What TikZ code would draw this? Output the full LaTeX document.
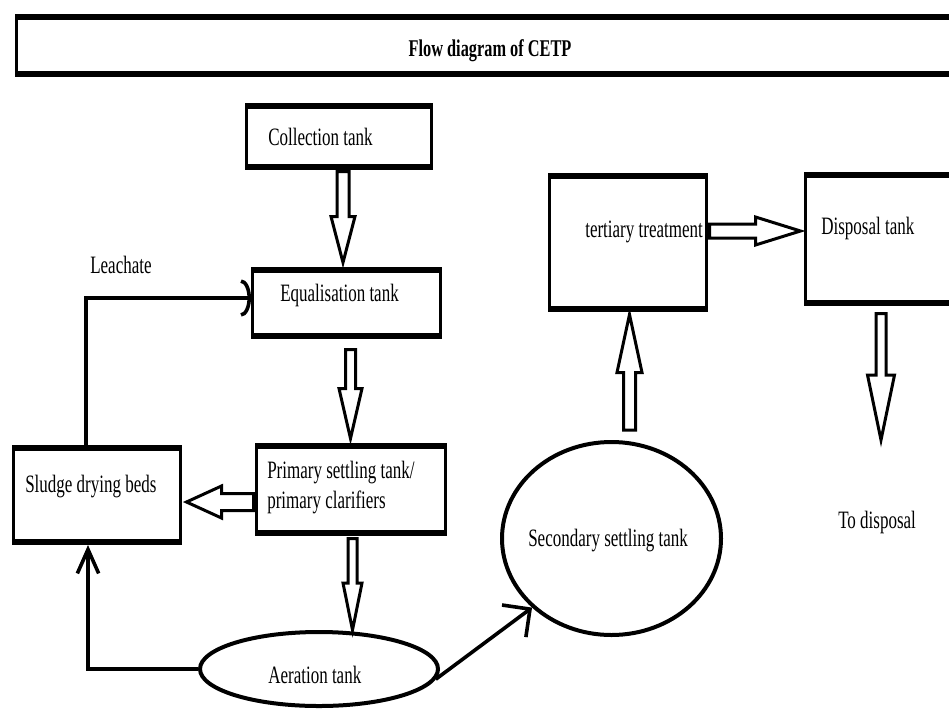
\documentclass[tikz,border=0pt]{standalone}
\usepackage{fontspec}
\setmainfont[FakeStretch=0.68]{Liberation Serif}
\usetikzlibrary{calc,shapes.geometric,arrows.meta}

\newcommand\bpt[2]{({\x1+((#1)*\n2-(#2)*\n3)*1pt},{\y1+((#1)*\n3+(#2)*\n2)*1pt})}
% #1 start, #2 tip, #3 half shaft (px), #4 half head (px), #5 head length (px)
\newcommand\blockarrow[5]{%
  \draw[barrow] let \p1=(#1), \p2=(#2),
    \n1={veclen(\x2-\x1,\y2-\y1)},
    \n2={(\x2-\x1)/\n1},
    \n3={(\y2-\y1)/\n1},
    \n4={\n1-(#5)*0.75}
  in \bpt{0}{(#3)*0.75} -- \bpt{\n4}{(#3)*0.75} -- \bpt{\n4}{(#4)*0.75}
     -- \bpt{\n1}{0} -- \bpt{\n4}{-(#4)*0.75} -- \bpt{\n4}{-(#3)*0.75}
     -- \bpt{0}{-(#3)*0.75} -- cycle;}

\begin{document}
\begin{tikzpicture}[x=0.75pt,y=-0.75pt,
  box/.style={draw, line width=2.25pt, inner sep=0pt,
    path picture={\draw[line width=6.75pt]
      (path picture bounding box.north west) -- (path picture bounding box.north east)
      (path picture bounding box.south west) -- (path picture bounding box.south east);}},
  ell/.style={draw, ellipse, line width=3pt, inner sep=0pt},
  txt/.style={inner sep=0pt, anchor=base west, font=\fontsize{18.75pt}{22pt}\selectfont},
  barrow/.style={draw, line width=2.25pt, line join=miter, fill=white},
  conn/.style={draw, line width=2.7pt}]

\fill[white] (0,0) rectangle (949,711);
\useasboundingbox (0,0) rectangle (949,711);

% title bar
\node[box, minimum width=714pt, minimum height=45pt] (title) at (492.5,45.5) {};
\node[inner sep=0pt, anchor=base, font=\fontsize{18pt}{20pt}\selectfont\bfseries] (titletext) at (490,56) {Flow diagram of CETP};

% boxes
\node[box, minimum width=138.75pt, minimum height=48pt] (coll) at (339,136.5) {};
\node[box, minimum width=141pt, minimum height=51.75pt] (equal) at (346.5,303) {};
\node[box, minimum width=141.75pt, minimum height=67.5pt] (primary) at (351,489.5) {};
\node[box, minimum width=125.25pt, minimum height=72.75pt] (sludge) at (97,495) {};
\node[box, minimum width=117.75pt, minimum height=102pt] (tert) at (628,242.5) {};
\node[box, minimum width=118.5pt, minimum height=98.25pt] (disp) at (884.5,239) {};
\node[ell, minimum width=178.5pt, minimum height=55.5pt] (aer) at (319,669) {};
\node[ell, minimum width=164.25pt, minimum height=144.75pt] (sec) at (611.5,538.5) {};

% texts
\node[txt] (tcoll) at (268,145) {Collection tank};
\node[txt] (tequal) at (280,301) {Equalisation tank};
\node[txt] (tleach) at (90,273) {Leachate};
\node[txt] (tprim1) at (267,478) {Primary settling tank/};
\node[txt] (tprim2) at (267,508) {primary clarifiers};
\node[txt] (tsludge) at (25,492) {Sludge drying beds};
\node[txt] (taer) at (268,683) {Aeration tank};
\node[txt] (tsec) at (528,546) {Secondary settling tank};
\node[txt] (ttert) at (585,237) {tertiary treatment};
\node[txt] (tdisp) at (821,234) {Disposal tank};
\node[txt] (tout) at (838,528) {To disposal};
\coordinate (dend) at (881,440);

% block arrows
\blockarrow{$(coll.south)+(4,1.5)$}{$(equal.north)+(-3.5,-4.5)$}{6}{12}{46}
\blockarrow{$(equal.south)+(4,10.5)$}{$(primary.north)+(-0.5,-4.5)$}{5}{11.5}{50}
\blockarrow{$(primary.west)+(-1.5,12.5)$}{$(sludge.east)+(4.5,7)$}{8.5}{16}{35}
\blockarrow{$(primary.south)+(1.5,2.5)$}{$(aer.north)+(33.5,0)$}{4.5}{9.5}{47}
\blockarrow{$(sec.north)+(18,-10)$}{$(tert.south)+(1.5,2.5)$}{6}{12.5}{58}
\blockarrow{$(tert.east)+(1.5,-11.5)$}{$(disp.west)+(-3.5,-8)$}{7}{14}{45}
\blockarrow{$(disp.south)+(-3.5,7.5)$}{dend}{5}{13.5}{65}

% thin connectors
\draw[conn, -{Arc Barb[length=7.5pt,width=28pt]}] ($(sludge.north)+(-11,0)$) |- ($(equal.west)+(0,-5)$);
\draw[conn, -{Straight Barb[length=18pt,width=16pt]}] (aer.west) -| ($(sludge.south)+(-9,0)$);
\draw[conn, -{Straight Barb[length=15pt,width=30pt]}] (aer.-5) -- (sec.221);
\end{tikzpicture}
\end{document}
